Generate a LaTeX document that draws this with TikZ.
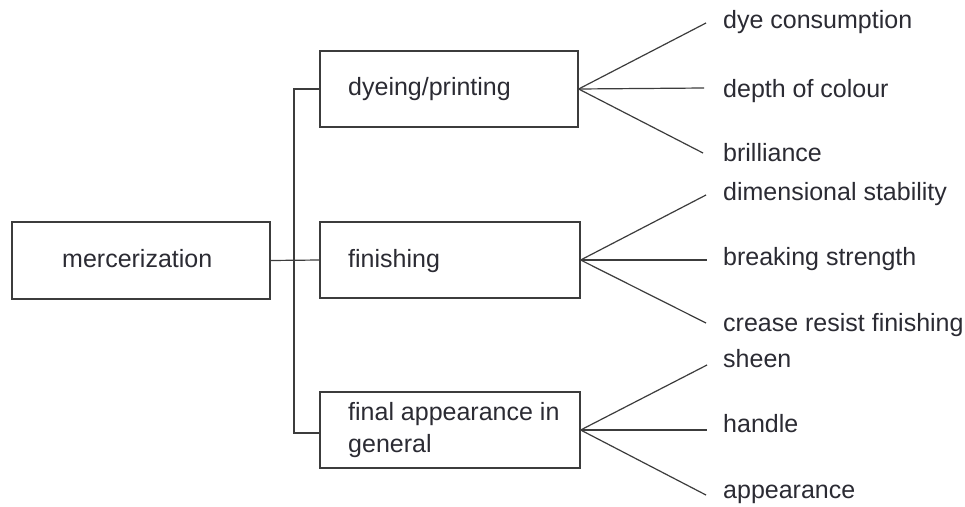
\documentclass[tikz,border=0pt]{standalone}
\usepackage{fontspec}
\setmainfont{Liberation Sans}
\definecolor{lc}{HTML}{3C3C3C}
\definecolor{tc}{HTML}{2B2B33}
\begin{document}
\begin{tikzpicture}[x=1pt,y=-1pt,
  box/.style={draw=lc, line width=1.3pt, minimum height=76pt, inner sep=0pt},
  conn/.style={draw=lc, line width=1.2pt},
  txt/.style={text=tc, font=\fontsize{25}{32}\selectfont, inner sep=0pt, anchor=base west}]
\useasboundingbox[fill=white] (0,0) rectangle (965,506);
% boxes
\node[box, minimum width=258pt, minimum height=77pt] (m) at (141,260.5) {};
\node[box, minimum width=258pt] (dye) at (449,89) {};
\node[box, minimum width=260pt] (fin) at (450,260) {};
\node[box, minimum width=260pt] (fa) at (450,430) {};
% box texts
\node[txt] (mt) at (62,267) {mercerization};
\node[txt] (dyet) at (348,95) {dyeing/printing};
\node[txt] (fint) at (348,267) {finishing};
\node[txt, anchor=north west, align=left] (fat) at (348,402) {final appearance in\\general};
% trunk
\coordinate (bus) at (294,261);
\draw[conn] (m.east) -- (fin.west);
\draw[conn] (dye.west) -| (bus) |- ([yshift=-3pt]fa.west);
% right labels
\node[txt] (l1) at (723,28) {dye consumption};
\node[txt] (l2) at (723,97) {depth of colour};
\node[txt] (l3) at (723,161) {brilliance};
\node[txt] (l4) at (723,200) {dimensional stability};
\node[txt] (l5) at (723,265) {breaking strength};
\node[txt] (l6) at (723,331) {crease resist finishing};
\node[txt] (l7) at (723,367) {sheen};
\node[txt] (l8) at (723,432) {handle};
\node[txt] (l9) at (723,498) {appearance};
% fan end points
\coordinate (e1) at (706,23);
\coordinate (e2) at (704,88);
\coordinate (e3) at (703,153);
\coordinate (e4) at (706,195);
\coordinate (e5) at (707,260);
\coordinate (e6) at (706,323);
\coordinate (e7) at (707,365);
\coordinate (e8) at (707,430);
\coordinate (e9) at (706,495);
\draw[conn] (e1) -- (dye.east) -- (e3);
\draw[conn] (dye.east) -- (e2);
\draw[conn] (e4) -- (fin.east) -- (e6);
\draw[conn] (fin.east) -- (e5);
\draw[conn] (e7) -- (fa.east) -- (e9);
\draw[conn] (fa.east) -- (e8);
\end{tikzpicture}
\end{document}
